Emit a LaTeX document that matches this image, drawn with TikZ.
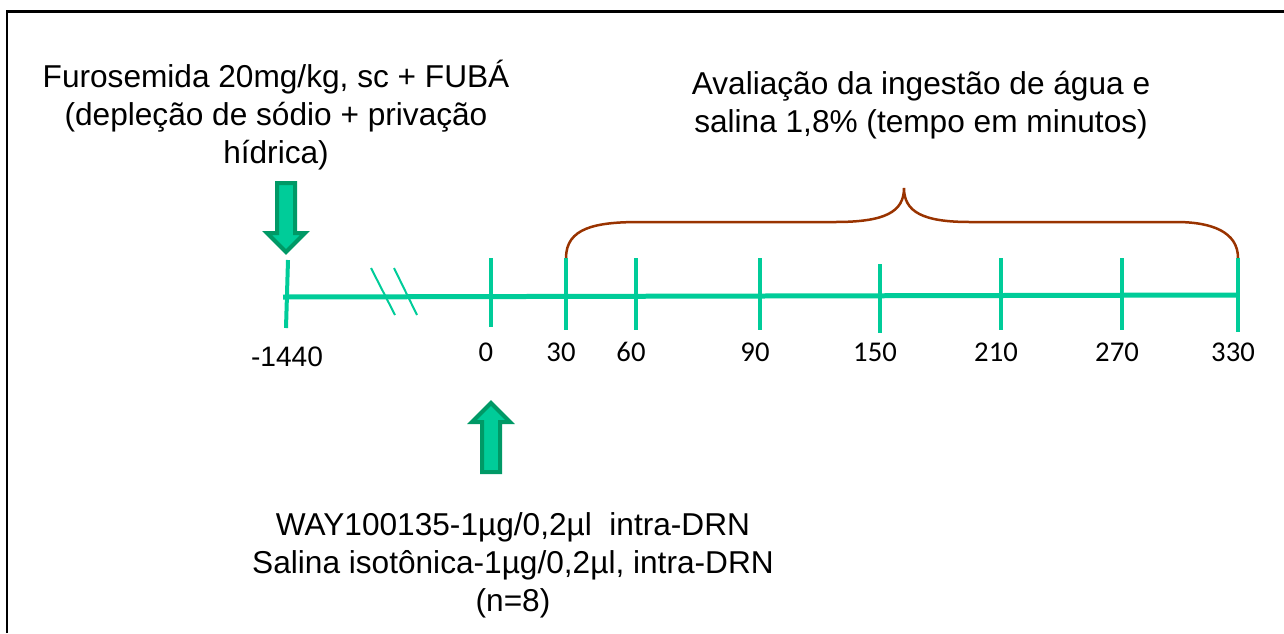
\documentclass[tikz,border=0pt]{standalone}
\usepackage{fontspec}
\setmainfont{Liberation Sans}
\newfontfamily\calibfont{Carlito}
\usetikzlibrary{shapes.arrows,positioning}

\definecolor{lineGreen}{RGB}{0,204,153}
\definecolor{darkGreen}{RGB}{0,153,102}
\definecolor{braceBrown}{RGB}{153,51,0}

\begin{document}
\begin{tikzpicture}[x=0.02cm,y=-0.02cm,
    axis/.style={lineGreen,line width=0.1cm},
    tick/.style={lineGreen,line width=0.08cm},
    cut/.style={lineGreen,line width=0.04cm},
    big arrow/.style={single arrow,draw=darkGreen,fill=lineGreen,line width=0.08cm,
        minimum height=1.38cm,minimum width=0.68cm,single arrow head extend=0.2cm,
        inner xsep=0pt,inner ysep=0.14cm},
    info/.style={align=center,font=\fontsize{18}{21.6}\selectfont},
    num/.style={font=\calibfont\fontsize{16.3}{18}\selectfont,inner sep=0pt}]

    \useasboundingbox (0,0) rectangle (1284,633);

    % frame
    \draw[line width=0.06cm] (7,633) -- (7,11) -- (1284,11);

    % time line
    \draw[axis] (283,297) -- (1238,295);
    \draw[tick] (288,260) coordinate (topm1440) -- (286,328);
    \node[inner sep=0pt,font=\fontsize{16}{18}\selectfont] (lm1440) at (287,357) {-1440};
    \foreach \v/\x/\a/\b in {0/491/258/327,30/566/258/330,60/636/258/330,90/760/258/330,
                             150/880/264/333,210/1001/258/330,270/1122/258/330,330/1238/258/332}
        {
        \draw[tick] (\x,\a) coordinate (top\v) -- (\x,\b);
        \node[num] (l\v) at (\x-5,352) {\v};
        }

    % break
    \draw[cut] (371,268) -- (395,315);
    \draw[cut] (394,268) -- (417,315);

    % arrows
    \node[big arrow,rotate=-90] (furoArrow) at (286,213) {};
    \node[big arrow,rotate=90] (wayArrow) at (491,442) {};

    % brace
    \draw[braceBrown,line width=0.05cm] (top30) .. controls (566,228) and (595,222) .. (640,222)
        -- (835,222) .. controls (885,222) and (904,212) .. (904,188)
        .. controls (904,212) and (923,222) .. (970,222) -- (1176,222)
        .. controls (1212,222) and (1238,232) .. (top330);

    % texts
    \node[info] (furo) at (276,115) {Furosemida 20mg/kg, sc + FUBÁ\\(depleção de sódio + privação\\hídrica)};
    \node[info] (aval) at (921,105) {Avaliação da ingestão de água e\\salina 1,8\% (tempo em minutos)};
    \node[info] (way) at (513,565) {WAY100135-1µg/0,2µl\ \ intra-DRN\\Salina isotônica-1µg/0,2µl, intra-DRN\\(n=8)};
\end{tikzpicture}
\end{document}
